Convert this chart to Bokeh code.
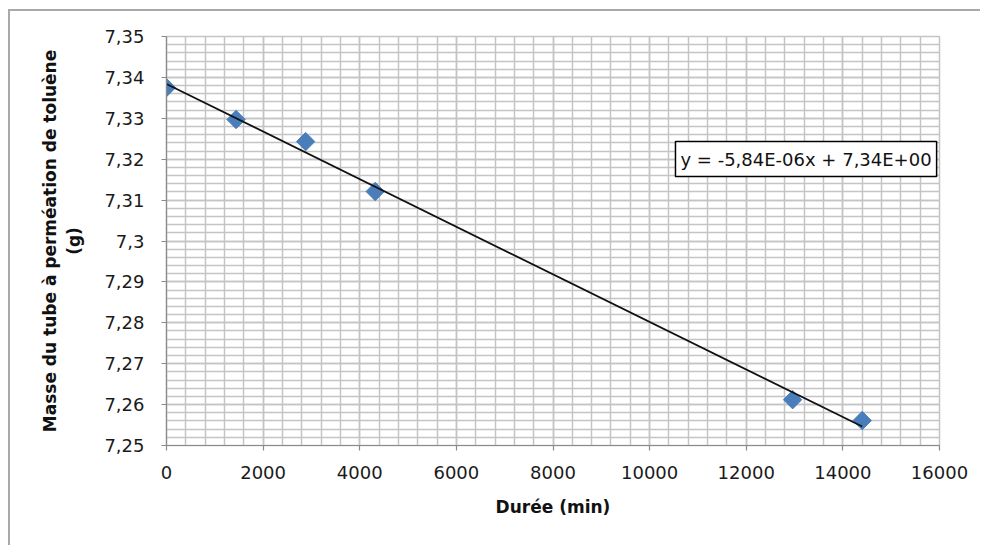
import numpy as np
from bokeh.plotting import figure
from bokeh.models import (ColumnDataSource, FixedTicker, SingleIntervalTicker,
                          Label, Range1d)
from bokeh.embed import file_html
from bokeh.resources import INLINE

# ---- data ----
duree_min = [0, 1440, 2880, 4320, 12960, 14400]
masse_g = [7.3375, 7.3297, 7.3243, 7.3121, 7.2612, 7.2561]

x_ticks = [0, 2000, 4000, 6000, 8000, 10000, 12000, 14000, 16000]
y_ticks = [7.25, 7.26, 7.27, 7.28, 7.29, 7.30, 7.31, 7.32, 7.33, 7.34, 7.35]
y_tick_labels = ["7,25", "7,26", "7,27", "7,28", "7,29", "7,3", "7,31",
                 "7,32", "7,33", "7,34", "7,35"]
equation_text = "y = -5,84E-06x + 7,34E+00"

FONT = "DejaVu Sans"
GRID = "#c4c4c4"
AXIS = "#8a8a8a"

p = figure(width=972, height=536, output_backend="svg", toolbar_location=None,
           x_range=Range1d(x_ticks[0], x_ticks[-1]),
           y_range=Range1d(y_ticks[0], y_ticks[-1]),
           min_border_left=156, min_border_right=43,
           min_border_top=25, min_border_bottom=102,
           background_fill_color="white", border_fill_color="white",
           styles={"border-left": "2px solid #a9a9a9",
                   "border-top": "2px solid #a9a9a9",
                   "margin-top": "9px", "margin-left": "8px"})
p.outline_line_color = GRID
p.outline_line_width = 1.5

# axes
p.xaxis.ticker = FixedTicker(ticks=x_ticks)
p.yaxis.ticker = FixedTicker(ticks=y_ticks)
p.yaxis.major_label_overrides = {t: l for t, l in zip(y_ticks, y_tick_labels)}
for ax in (p.xaxis, p.yaxis):
    ax.axis_line_color = AXIS
    ax.axis_line_width = 1.2
    ax.major_tick_line_color = AXIS
    ax.major_tick_line_width = 1.2
    ax.major_tick_out = 5
    ax.major_tick_in = 0
    ax.minor_tick_out = 0
    ax.minor_tick_in = 0
    ax.major_label_text_font = FONT
    ax.major_label_text_font_size = "18px"
    ax.major_label_text_color = "#1a1a1a"
    ax.axis_label_text_font = FONT
    ax.axis_label_text_font_size = "17px"
    ax.axis_label_text_font_style = "bold"
    ax.axis_label_text_color = "#111111"
p.xaxis.major_label_standoff = 15
p.yaxis.major_label_standoff = 17
p.xaxis.axis_label = "Durée (min)"
p.yaxis.axis_label = "Masse du tube à perméation de toluène\n(g)"
p.xaxis.axis_label_standoff = 15
p.yaxis.axis_label_standoff = 17

# grids (major + minor, same look)
p.xgrid.ticker = SingleIntervalTicker(interval=2000, num_minor_ticks=5)
p.ygrid.ticker = SingleIntervalTicker(interval=0.01, num_minor_ticks=5)
for g in (p.xgrid, p.ygrid):
    g.grid_line_color = GRID
    g.grid_line_width = 1.5
    g.minor_grid_line_color = GRID
    g.minor_grid_line_width = 1.5

# markers
src = ColumnDataSource(dict(x=duree_min, y=masse_g))
p.scatter("x", "y", source=src, marker="square", size=13, angle=np.pi / 4,
          fill_color="#4a7ebb", line_color="#4a7ebb")

# linear trend line
slope, intercept = np.polyfit(duree_min, masse_g, 1)
xs = [min(duree_min), max(duree_min)]
p.line(xs, [slope * v + intercept for v in xs], line_color="#111111", line_width=1.8)

# equation box
p.add_layout(Label(x=10535, y=7.3243, text=equation_text, anchor="top_left",
                   text_font=FONT, text_font_size="18px", text_color="#111111",
                   background_fill_color="white", border_line_color="black",
                   border_line_width=1.5,
                   padding=dict(left=5, right=5, top=7, bottom=7)))

open("out.html", "w").write(file_html(p, INLINE))
